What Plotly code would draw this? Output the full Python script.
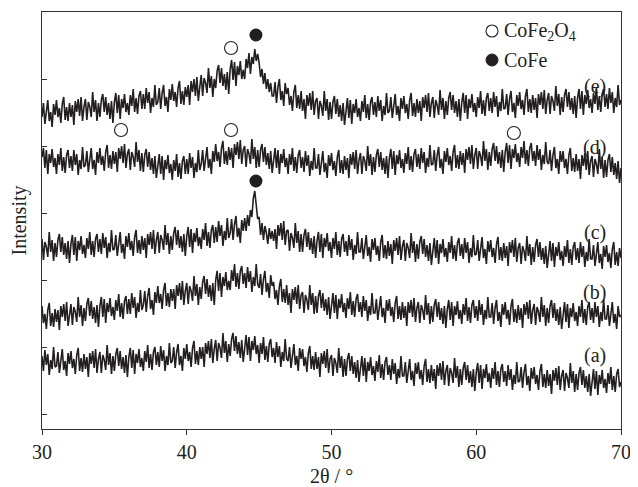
import plotly.graph_objects as go

# 2-theta grid: 30.0 .. 70.0 in 0.1 degree steps (401 points)
two_theta = [round(30 + 0.1 * i, 1) for i in range(401)]

# Intensity (a.u.), offset for stacking
trace_a = [
    73, 58, 79, 64, 75, 54, 69, 60, 82, 62,
    63, 77, 56, 72, 80, 59, 68, 53, 76, 65,
    78, 61, 70, 55, 74, 81, 58, 71, 57, 75,
    60, 72, 52, 76, 65, 78, 61, 80, 56, 70,
    77, 56, 74, 69, 59, 84, 64, 76, 55, 73,
    58, 75, 81, 63, 78, 60, 72, 56, 74, 52,
    72, 81, 61, 79, 55, 75, 66, 80, 62, 71,
    58, 78, 67, 84, 61, 75, 59, 77, 82, 64,
    77, 62, 83, 68, 79, 58, 73, 64, 86, 66,
    68, 82, 61, 77, 85, 64, 73, 58, 81, 70,
    85, 68, 77, 62, 81, 88, 65, 78, 64, 82,
    70, 82, 62, 86, 75, 88, 71, 90, 66, 80,
    89, 68, 86, 81, 71, 96, 76, 88, 67, 85,
    73, 90, 96, 78, 93, 75, 87, 71, 89, 67,
    85, 94, 74, 92, 68, 88, 79, 93, 75, 84,
    66, 86, 75, 92, 69, 83, 67, 85, 90, 72,
    81, 66, 87, 72, 83, 62, 77, 68, 90, 70,
    68, 82, 61, 77, 85, 64, 73, 58, 81, 70,
    80, 63, 72, 57, 76, 83, 60, 73, 59, 77,
    60, 72, 52, 76, 65, 78, 61, 80, 56, 70,
    74, 53, 71, 66, 56, 81, 61, 73, 52, 70,
    53, 70, 76, 58, 73, 55, 67, 51, 69, 47,
    64, 73, 53, 71, 47, 67, 58, 72, 54, 63,
    48, 68, 57, 74, 51, 65, 49, 67, 72, 54,
    64, 49, 70, 55, 66, 45, 60, 51, 73, 53,
    53, 67, 46, 62, 70, 49, 58, 43, 66, 55,
    67, 50, 59, 44, 63, 70, 47, 60, 46, 64,
    48, 60, 40, 64, 53, 66, 49, 68, 44, 58,
    64, 43, 61, 56, 46, 71, 51, 63, 42, 60,
    44, 61, 67, 49, 64, 46, 58, 42, 60, 38,
    57, 66, 46, 64, 40, 60, 51, 65, 47, 56,
    41, 61, 50, 67, 44, 58, 42, 60, 65, 47,
    58, 43, 64, 49, 60, 39, 54, 45, 67, 47,
    48, 62, 41, 57, 65, 44, 53, 38, 61, 50,
    62, 45, 54, 39, 58, 65, 42, 55, 41, 59,
    43, 55, 35, 59, 48, 61, 44, 63, 39, 53,
    59, 38, 56, 51, 41, 66, 46, 58, 37, 55,
    39, 56, 62, 44, 59, 41, 53, 37, 55, 33,
    51, 60, 40, 58, 34, 54, 45, 59, 41, 50,
    36, 56, 45, 62, 39, 53, 37, 55, 60, 42,
    47,
]
trace_b = [
    123, 106, 115, 100, 119, 126, 103, 116, 102, 120,
    107, 119, 99, 123, 112, 125, 108, 127, 103, 117,
    125, 104, 122, 117, 107, 132, 112, 124, 103, 121,
    108, 125, 131, 113, 128, 110, 122, 106, 124, 102,
    123, 132, 112, 130, 106, 126, 117, 131, 113, 122,
    109, 129, 118, 135, 112, 126, 110, 128, 133, 115,
    130, 115, 136, 121, 132, 111, 126, 117, 139, 119,
    124, 138, 117, 133, 141, 120, 129, 114, 137, 126,
    143, 126, 135, 120, 139, 146, 123, 136, 122, 140,
    128, 140, 120, 144, 133, 146, 129, 148, 124, 138,
    146, 125, 143, 138, 128, 153, 133, 145, 124, 142,
    130, 147, 153, 135, 150, 132, 144, 128, 146, 124,
    149, 158, 138, 156, 132, 152, 143, 157, 139, 148,
    139, 159, 148, 165, 142, 156, 140, 158, 163, 145,
    156, 141, 162, 147, 158, 137, 152, 143, 165, 145,
    141, 155, 134, 150, 158, 137, 146, 131, 154, 143,
    147, 130, 139, 124, 143, 150, 127, 140, 126, 144,
    124, 136, 116, 140, 129, 142, 125, 144, 120, 134,
    137, 116, 134, 129, 119, 144, 124, 136, 115, 133,
    116, 133, 139, 121, 136, 118, 130, 114, 132, 110,
    127, 136, 116, 134, 110, 130, 121, 135, 117, 126,
    111, 131, 120, 137, 114, 128, 112, 130, 135, 117,
    127, 112, 133, 118, 129, 108, 123, 114, 136, 116,
    116, 130, 109, 125, 133, 112, 121, 106, 129, 118,
    130, 113, 122, 107, 126, 133, 110, 123, 109, 127,
    111, 123, 103, 127, 116, 129, 112, 131, 107, 121,
    127, 106, 124, 119, 109, 134, 114, 126, 105, 123,
    107, 124, 130, 112, 127, 109, 121, 105, 123, 101,
    120, 129, 109, 127, 103, 123, 114, 128, 110, 119,
    105, 125, 114, 131, 108, 122, 106, 124, 129, 111,
    123, 108, 129, 114, 125, 104, 119, 110, 132, 112,
    112, 126, 105, 121, 129, 108, 117, 102, 125, 114,
    127, 110, 119, 104, 123, 130, 107, 120, 106, 124,
    109, 121, 101, 125, 114, 127, 110, 129, 105, 119,
    125, 104, 122, 117, 107, 132, 112, 124, 103, 121,
    106, 123, 129, 111, 126, 108, 120, 104, 122, 100,
    118, 127, 107, 125, 101, 121, 112, 126, 108, 117,
    103, 123, 112, 129, 106, 120, 104, 122, 127, 109,
    121, 106, 127, 112, 123, 102, 117, 108, 130, 110,
    110, 124, 103, 119, 127, 106, 115, 100, 123, 112,
    114,
]
trace_c = [
    190, 169, 187, 182, 172, 197, 177, 189, 168, 186,
    172, 189, 195, 177, 192, 174, 186, 170, 188, 166,
    185, 194, 174, 192, 168, 188, 179, 193, 175, 184,
    171, 191, 180, 197, 174, 188, 172, 190, 195, 177,
    190, 175, 196, 181, 192, 171, 186, 177, 199, 179,
    180, 194, 173, 189, 197, 176, 185, 170, 193, 182,
    196, 179, 188, 173, 192, 199, 176, 189, 175, 193,
    179, 191, 171, 195, 184, 197, 180, 199, 175, 189,
    197, 176, 194, 189, 179, 204, 184, 196, 175, 193,
    179, 196, 202, 184, 199, 181, 193, 177, 195, 173,
    193, 202, 182, 200, 176, 196, 187, 201, 183, 192,
    180, 200, 189, 206, 183, 197, 181, 199, 204, 186,
    202, 187, 208, 193, 204, 183, 198, 189, 211, 191,
    196, 210, 189, 205, 213, 192, 201, 186, 209, 198,
    211, 198, 214, 203, 219, 212, 231, 238, 224, 210,
    212, 194, 206, 189, 203, 196, 185, 201, 190, 198,
    188, 200, 180, 204, 193, 206, 189, 208, 184, 198,
    199, 178, 196, 191, 181, 206, 186, 198, 177, 195,
    177, 194, 200, 182, 197, 179, 191, 175, 193, 171,
    188, 197, 177, 195, 171, 191, 182, 196, 178, 187,
    171, 191, 180, 197, 174, 188, 172, 190, 195, 177,
    188, 173, 194, 179, 190, 169, 184, 175, 197, 177,
    177, 191, 170, 186, 194, 173, 182, 167, 190, 179,
    191, 174, 183, 168, 187, 194, 171, 184, 170, 188,
    173, 185, 165, 189, 178, 191, 174, 193, 169, 183,
    189, 168, 186, 181, 171, 196, 176, 188, 167, 185,
    170, 187, 193, 175, 190, 172, 184, 168, 186, 164,
    182, 191, 171, 189, 165, 185, 176, 190, 172, 181,
    167, 187, 176, 193, 170, 184, 168, 186, 191, 173,
    185, 170, 191, 176, 187, 166, 181, 172, 194, 174,
    175, 189, 168, 184, 192, 171, 180, 165, 188, 177,
    189, 172, 181, 166, 185, 192, 169, 182, 168, 186,
    171, 183, 163, 187, 176, 189, 172, 191, 167, 181,
    186, 165, 183, 178, 168, 193, 173, 185, 164, 182,
    167, 184, 190, 172, 187, 169, 181, 165, 183, 161,
    179, 188, 168, 186, 162, 182, 173, 187, 169, 178,
    163, 183, 172, 189, 166, 180, 164, 182, 187, 169,
    181, 166, 187, 172, 183, 162, 177, 168, 190, 170,
    170, 184, 163, 179, 187, 166, 175, 160, 183, 172,
    184, 167, 176, 161, 180, 187, 164, 177, 163, 181,
    171,
]
trace_d = [
    272, 281, 261, 279, 255, 275, 266, 280, 262, 271,
    255, 275, 264, 281, 258, 272, 256, 274, 279, 261,
    273, 258, 279, 264, 275, 254, 269, 260, 282, 262,
    264, 278, 257, 273, 281, 260, 269, 254, 277, 266,
    281, 264, 273, 258, 277, 284, 261, 274, 260, 278,
    265, 277, 257, 281, 270, 283, 266, 285, 261, 275,
    280, 259, 277, 272, 262, 287, 267, 279, 258, 276,
    257, 274, 280, 262, 277, 259, 271, 255, 273, 251,
    266, 275, 255, 273, 249, 269, 260, 274, 256, 265,
    249, 269, 258, 275, 252, 266, 250, 268, 273, 255,
    270, 255, 276, 261, 272, 251, 266, 257, 279, 259,
    265, 279, 258, 274, 282, 261, 270, 255, 278, 267,
    285, 268, 277, 262, 281, 288, 265, 278, 264, 282,
    269, 281, 261, 285, 274, 287, 270, 289, 265, 279,
    283, 262, 280, 275, 265, 290, 270, 282, 261, 279,
    262, 279, 285, 267, 282, 264, 276, 260, 278, 256,
    272, 281, 261, 279, 255, 275, 266, 280, 262, 271,
    255, 275, 264, 281, 258, 272, 256, 274, 279, 261,
    272, 257, 278, 263, 274, 253, 268, 259, 281, 261,
    261, 275, 254, 270, 278, 257, 266, 251, 274, 263,
    276, 259, 268, 253, 272, 279, 256, 269, 255, 273,
    259, 271, 251, 275, 264, 277, 260, 279, 255, 269,
    276, 255, 273, 268, 258, 283, 263, 275, 254, 272,
    257, 274, 280, 262, 277, 259, 271, 255, 273, 251,
    271, 280, 260, 278, 254, 274, 265, 279, 261, 270,
    256, 276, 265, 282, 259, 273, 257, 275, 280, 262,
    275, 260, 281, 266, 277, 256, 271, 262, 284, 264,
    265, 279, 258, 274, 282, 261, 270, 255, 278, 267,
    281, 264, 273, 258, 277, 284, 261, 274, 260, 278,
    264, 276, 256, 280, 269, 282, 265, 284, 260, 274,
    281, 260, 278, 273, 263, 288, 268, 280, 259, 277,
    263, 280, 286, 268, 283, 265, 277, 261, 279, 257,
    277, 286, 266, 284, 260, 280, 271, 285, 267, 276,
    262, 282, 271, 288, 265, 279, 263, 281, 286, 268,
    278, 263, 284, 269, 280, 259, 274, 265, 287, 267,
    265, 279, 258, 274, 282, 261, 270, 255, 278, 267,
    278, 261, 270, 255, 274, 281, 258, 271, 257, 275,
    258, 270, 250, 274, 263, 276, 259, 278, 254, 268,
    273, 252, 270, 265, 255, 280, 260, 272, 251, 269,
    252, 269, 275, 257, 272, 254, 266, 250, 268, 246,
    261,
]
trace_e = [
    312, 326, 305, 321, 329, 308, 317, 302, 325, 314,
    329, 312, 321, 306, 325, 332, 309, 322, 308, 326,
    312, 324, 304, 328, 317, 330, 313, 332, 308, 322,
    330, 309, 327, 322, 312, 337, 317, 329, 308, 326,
    312, 329, 335, 317, 332, 314, 326, 310, 328, 306,
    327, 336, 316, 334, 310, 330, 321, 335, 317, 326,
    314, 334, 323, 340, 317, 331, 315, 333, 338, 320,
    335, 320, 341, 326, 337, 316, 331, 322, 344, 324,
    327, 341, 320, 336, 344, 323, 332, 317, 340, 329,
    345, 328, 337, 322, 341, 348, 325, 338, 324, 342,
    332, 344, 324, 348, 337, 350, 333, 352, 328, 342,
    354, 333, 351, 346, 336, 361, 341, 353, 332, 350,
    341, 358, 364, 346, 361, 343, 355, 339, 357, 335,
    360, 369, 349, 367, 343, 363, 354, 368, 350, 359,
    350, 370, 361, 376, 355, 372, 365, 380, 368, 375,
    366, 352, 360, 345, 356, 340, 350, 337, 346, 333,
    333, 347, 326, 342, 350, 329, 338, 323, 346, 335,
    341, 324, 333, 318, 337, 344, 321, 334, 320, 338,
    318, 330, 310, 334, 323, 336, 319, 338, 314, 328,
    331, 310, 328, 323, 313, 338, 318, 330, 309, 327,
    310, 327, 333, 315, 330, 312, 324, 308, 326, 304,
    322, 331, 311, 329, 305, 325, 316, 330, 312, 321,
    308, 328, 317, 334, 311, 325, 309, 327, 332, 314,
    327, 312, 333, 318, 329, 308, 323, 314, 336, 316,
    318, 332, 311, 327, 335, 314, 323, 308, 331, 320,
    333, 316, 325, 310, 329, 336, 313, 326, 312, 330,
    316, 328, 308, 332, 321, 334, 317, 336, 312, 326,
    332, 311, 329, 324, 314, 339, 319, 331, 310, 328,
    314, 331, 337, 319, 334, 316, 328, 312, 330, 308,
    327, 336, 316, 334, 310, 330, 321, 335, 317, 326,
    312, 332, 321, 338, 315, 329, 313, 331, 336, 318,
    331, 316, 337, 322, 333, 312, 327, 318, 340, 320,
    321, 335, 314, 330, 338, 317, 326, 311, 334, 323,
    337, 320, 329, 314, 333, 340, 317, 330, 316, 334,
    319, 331, 311, 335, 324, 337, 320, 339, 315, 329,
    336, 315, 333, 328, 318, 343, 323, 335, 314, 332,
    317, 334, 340, 322, 337, 319, 331, 315, 333, 311,
    331, 340, 320, 338, 314, 334, 325, 339, 321, 330,
    316, 336, 325, 342, 319, 333, 317, 335, 340, 322,
    335, 320, 341, 326, 337, 316, 331, 322, 344, 324,
    329,
]

series = [("(a)", trace_a, 74), ("(b)", trace_b, 137), ("(c)", trace_c, 197),
          ("(d)", trace_d, 282), ("(e)", trace_e, 343)]

# Phase markers (2theta, y position)
cofe2o4_x = [35.46, 43.06, 62.6, 43.06]
cofe2o4_y = [299, 299, 296, 381]
cofe_x = [44.78, 44.78]
cofe_y = [248, 394]

ytick_vals = [15, 82, 149, 216, 283, 350, 417]

LINE = "#231f20"
FONT = "Liberation Serif, Times New Roman, serif"
FS = 20

# The page body adds an 8 px offset; the figure is sized to the remaining area.
fig = go.Figure()
for name, vals, _ in series:
    fig.add_trace(go.Scatter(x=two_theta, y=vals, mode="lines",
                             line=dict(color=LINE, width=1.6), showlegend=False,
                             hoverinfo="skip"))

fig.add_trace(go.Scatter(x=cofe2o4_x, y=cofe2o4_y, mode="markers",
                         marker=dict(symbol="circle-open", size=13,
                                     color=LINE, line=dict(width=1.1)),
                         showlegend=False))
fig.add_trace(go.Scatter(x=cofe_x, y=cofe_y, mode="markers",
                         marker=dict(symbol="circle", size=13, color=LINE),
                         showlegend=False))

for name, _, ly in series:
    fig.add_annotation(x=68.2, y=ly, text=name, showarrow=False,
                       font=dict(family=FONT, size=FS, color=LINE))

# Legend drawn in paper coordinates
fig.add_shape(type="circle", xref="paper", yref="paper",
              xsizemode="pixel", ysizemode="pixel",
              xanchor=(492 - 42) / 579, yanchor=1 - (31 - 12) / 417,
              x0=-6, x1=6, y0=-6, y1=6,
              line=dict(color=LINE, width=1.1))
fig.add_shape(type="circle", xref="paper", yref="paper",
              xsizemode="pixel", ysizemode="pixel",
              xanchor=(492 - 42) / 579, yanchor=1 - (60 - 12) / 417,
              x0=-6, x1=6, y0=-6, y1=6,
              fillcolor=LINE, line=dict(color=LINE, width=1))
fig.add_annotation(xref="paper", yref="paper", x=(502 - 42) / 579, y=1 - (31 - 12) / 417,
                   xanchor="left", yanchor="middle", showarrow=False,
                   text="CoFe<sub>2</sub>O<sub>4</sub>",
                   font=dict(family=FONT, size=FS, color=LINE))
fig.add_annotation(xref="paper", yref="paper", x=(502 - 42) / 579, y=1 - (60 - 12) / 417,
                   xanchor="left", yanchor="middle", showarrow=False,
                   text="CoFe", font=dict(family=FONT, size=FS, color=LINE))

# x-axis title placed as annotation so it can sit lower than the axis standoff allows
fig.add_annotation(xref="paper", yref="paper", x=0.5, y=-47 / 417,
                   xanchor="center", yanchor="middle", showarrow=False,
                   text="2θ / °", font=dict(family=FONT, size=FS, color=LINE))

fig.update_layout(
    width=630, height=479,
    margin=dict(l=34, r=17, t=4, b=58),
    plot_bgcolor="white", paper_bgcolor="white",
    font=dict(family=FONT, size=FS, color=LINE),
)
fig.update_xaxes(range=[30, 70], dtick=10, tick0=30, ticks="outside", ticklen=5,
                 tickcolor="#333", showline=True, linecolor="#333", linewidth=1,
                 mirror=True, showgrid=False, zeroline=False, automargin=False,
                 tickfont=dict(family=FONT, size=FS))
fig.update_yaxes(range=[0, 417], tickvals=ytick_vals, showticklabels=False,
                 ticks="inside", ticklen=5, tickcolor="#333",
                 showline=True, linecolor="#333", linewidth=1, mirror=True,
                 showgrid=False, zeroline=False, automargin=False,
                 title=dict(text="Intensity", font=dict(family=FONT, size=FS), standoff=12))

fig.write_html("out.html")
